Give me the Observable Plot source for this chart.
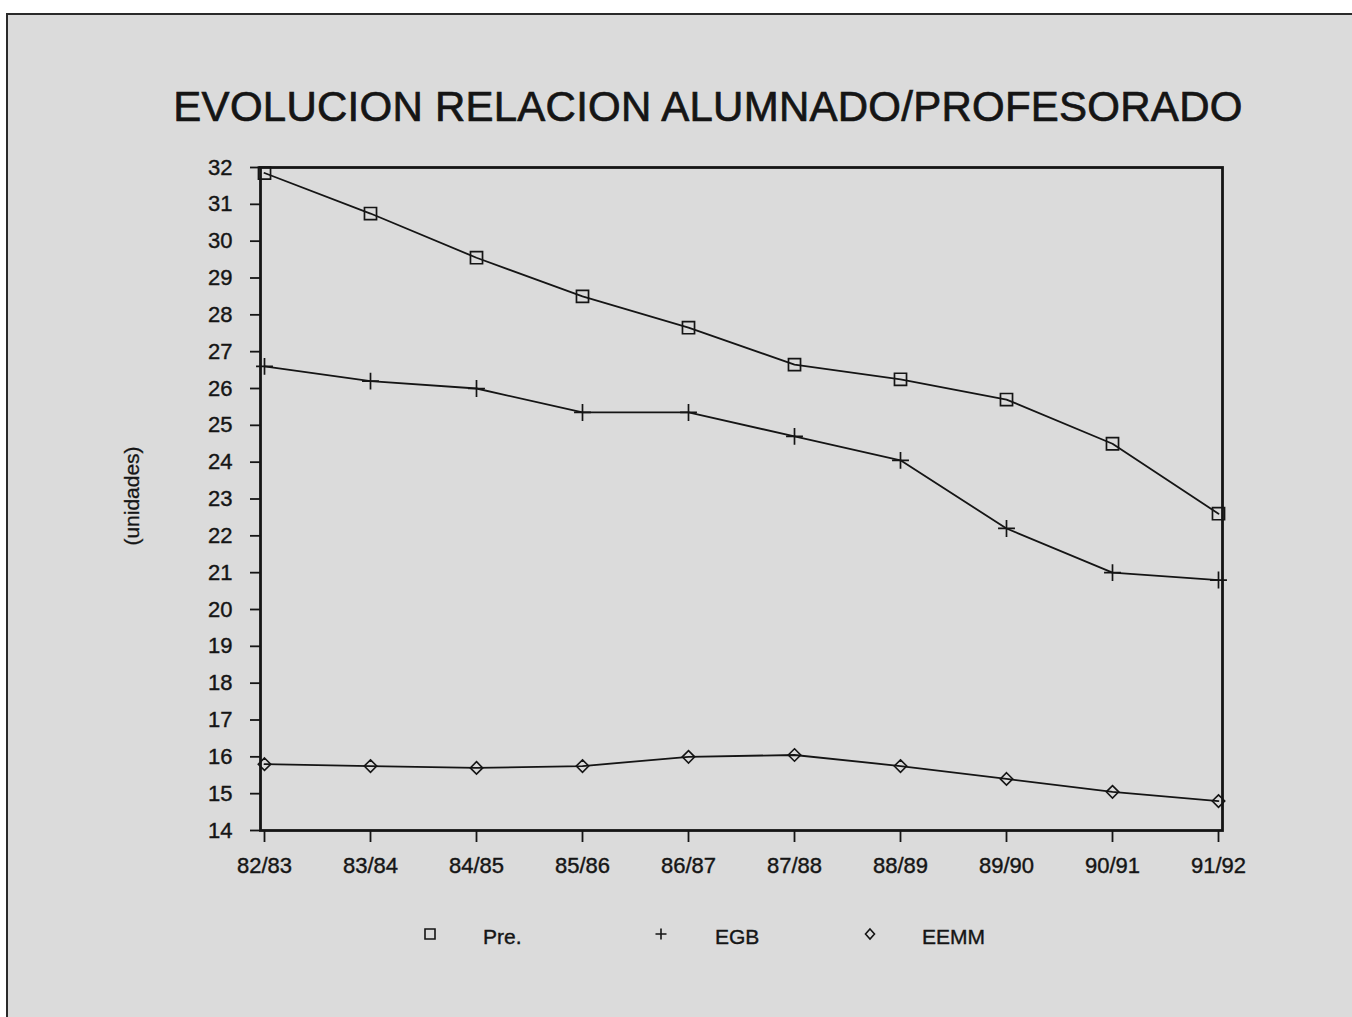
<!DOCTYPE html>
<html>
<head>
<meta charset="utf-8">
<script src="https://cdn.jsdelivr.net/npm/d3@7"></script>
<script src="https://cdn.jsdelivr.net/npm/@observablehq/plot@0.6"></script>
<style>
  html, body { margin: 0; padding: 0; width: 1352px; height: 1017px; overflow: hidden; background: #ffffff; }
  body { position: relative; font-family: "Liberation Sans", Arial, Helvetica, sans-serif; color: #151515; }
  #page { position: absolute; left: 6px; top: 13px; right: 0; bottom: 0; background: #dbdbdb; border-top: 2px solid #2a2a2a; border-left: 2px solid #2a2a2a; }
  #title { position: absolute; left: 708px; top: 86px; transform: translateX(-50%); white-space: nowrap; font-size: 42px; line-height: 42px; letter-spacing: 0.25px; -webkit-text-stroke: 0.7px #151515; }
  #ylabel { position: absolute; left: 132px; top: 496px; transform: translate(-50%, -50%) rotate(-90deg); white-space: nowrap; font-size: 21px; -webkit-text-stroke: 0.3px #151515; }
  #chart { position: absolute; left: 0; top: 140px; }
  #chart svg text { stroke: #151515; stroke-width: 0.4px; }
  .leg { position: absolute; font-size: 21px; line-height: 21px; white-space: nowrap; -webkit-text-stroke: 0.4px #151515; }
  .sym { position: absolute; }
</style>
</head>
<body>
<div id="page"></div>
<div id="title"></div>
<div id="ylabel"></div>
<div id="chart"></div>
<div id="legend"></div>
<script>
// ---- data ----
const years = ["82/83", "83/84", "84/85", "85/86", "86/87", "87/88", "88/89", "89/90", "90/91", "91/92"];
const pre  = [31.85, 30.75, 29.55, 28.5, 27.65, 26.65, 26.25, 25.7, 24.5, 22.6];
const egb  = [26.6, 26.2, 26.0, 25.35, 25.35, 24.7, 24.05, 22.2, 21.0, 20.8];
const eemm = [15.8, 15.75, 15.7, 15.75, 16.0, 16.05, 15.75, 15.4, 15.05, 14.8];
const seriesNames = ["Pre.", "EGB", "EEMM"];
const yTicks = d3.range(14, 33);
const titleText = "EVOLUCION RELACION ALUMNADO/PROFESORADO";
const yLabelText = "(unidades)";

document.getElementById("title").textContent = titleText;
document.getElementById("ylabel").textContent = yLabelText;

const seriesValues = [pre, egb, eemm];
const data = [];
seriesNames.forEach((s, k) => years.forEach((y, i) => data.push({year: y, serie: s, value: seriesValues[k][i]})));

const ink = "#151515";
const chart = Plot.plot({
  width: 1352,
  height: 760,
  marginTop: 27,
  marginBottom: 70,
  marginLeft: 260,
  marginRight: 130,
  style: {background: "transparent", fontFamily: "'Liberation Sans', Arial, sans-serif", fontSize: "22px", color: ink},
  x: {type: "point", domain: years, padding: 0, label: null},
  y: {domain: [14, 32], label: null},
  marks: [
    Plot.axisY({ticks: yTicks, tickSize: 10, tickPadding: 18, fontSize: 22, strokeWidth: 1.8, label: null}),
    Plot.axisX({tickSize: 12, tickPadding: 15, fontSize: 22, strokeWidth: 1.8, label: null}),
    Plot.line(data, {x: "year", y: "value", z: "serie", stroke: ink, strokeWidth: 1.8}),
    Plot.dot(data.filter(d => d.serie === "Pre."), {x: "year", y: "value", symbol: "square", r: 6.8, fill: "none", stroke: ink, strokeWidth: 1.7}),
    Plot.dot(data.filter(d => d.serie === "EGB"), {x: "year", y: "value", symbol: "plus", r: 5.5, fill: "none", stroke: ink, strokeWidth: 1.7}),
    Plot.dot(data.filter(d => d.serie === "EEMM"), {x: "year", y: "value", symbol: "diamond2", r: 5.6, fill: "none", stroke: ink, strokeWidth: 1.6}),
    Plot.frame({stroke: ink, strokeWidth: 2.8})
  ]
});
document.getElementById("chart").appendChild(chart);

// ---- legend ----
const legendItems = [
  {name: seriesNames[0], sx: 430, tx: 483, shape: "square"},
  {name: seriesNames[1], sx: 661, tx: 715, shape: "plus"},
  {name: seriesNames[2], sx: 870, tx: 922, shape: "diamond"}
];
const legend = document.getElementById("legend");
const ly = 936;
legendItems.forEach(it => {
  const svgNS = "http://www.w3.org/2000/svg";
  const s = document.createElementNS(svgNS, "svg");
  s.setAttribute("width", 16); s.setAttribute("height", 16);
  s.setAttribute("class", "sym");
  s.style.left = (it.sx - 8) + "px"; s.style.top = (ly - 10) + "px";
  const p = document.createElementNS(svgNS, "path");
  let d = "";
  if (it.shape === "square") d = "M3,3H13V13H3Z";
  if (it.shape === "plus") d = "M8,2.5V13.5M2.5,8H13.5";
  if (it.shape === "diamond") d = "M8,3L12.5,8L8,13L3.5,8Z";
  p.setAttribute("d", d);
  p.setAttribute("fill", "none"); p.setAttribute("stroke", ink); p.setAttribute("stroke-width", 1.6);
  s.appendChild(p);
  legend.appendChild(s);
  const t = document.createElement("div");
  t.className = "leg";
  t.textContent = it.name;
  t.style.left = it.tx + "px";
  t.style.top = (ly - 10) + "px";
  legend.appendChild(t);
});
</script>
</body>
</html>
